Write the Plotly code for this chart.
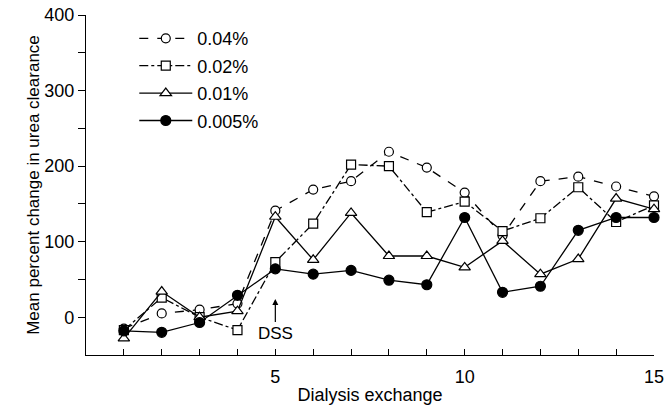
import plotly.graph_objects as go

exchange = list(range(1, 16))
conc_004 = [-15, 5, 10, 18, 141, 169, 180, 219, 198, 165, 108, 180, 186, 173, 160]
conc_002 = [-17, 26, 0, -17, 73, 124, 202, 200, 139, 153, 114, 131, 172, 126, 148]
conc_001 = [-28, 34, 0, 8, 133, 76, 138, 81, 81, 66, 101, 57, 77, 157, 143]
conc_0005 = [-18, -20, -7, 29, 64, 57, 62, 49, 43, 132, 33, 41, 115, 132, 132]

series_names = ["0.04%", "0.02%", "0.01%", "0.005%"]
y_tickvals = [0, 100, 200, 300, 400]
x_tickvals = list(range(1, 16))
x_ticktext = ["" if v % 5 else str(v) for v in x_tickvals]

FONT = "Liberation Sans, Arial, sans-serif"
fig = go.Figure()

styles = [
    (conc_004, "dash", "circle", "white", 9),
    (conc_002, "dashdot", "square", "white", 9),
    (conc_001, "solid", "triangle-up", "white", 10),
    (conc_0005, "solid", "circle", "black", 10),
]
for name, (vals, dash, sym, fill, size) in zip(series_names, styles):
    fig.add_trace(go.Scatter(
        x=exchange, y=vals, name=name, mode="lines+markers",
        legendgroup=name,
        line=dict(color="black", width=1.3, dash=dash),
        marker=dict(symbol=sym, size=size, color=fill,
                    line=dict(color="black", width=1.2)),
        cliponaxis=False,
    ))

fig.add_annotation(x=5, y=24, text="DSS", showarrow=True, arrowhead=2, arrowsize=1,
                   arrowwidth=1.2, arrowcolor="black", ax=0, ay=34,
                   font=dict(family=FONT, size=17, color="black"))

fig.update_layout(
    width=664, height=407,
    margin=dict(l=86, r=10, t=15, b=52),
    paper_bgcolor="white", plot_bgcolor="white",
    font=dict(family=FONT, size=14, color="black"),
    showlegend=True,
    legend=dict(x=0.085, y=0.985, xanchor="left", yanchor="top",
                font=dict(family=FONT, size=18), itemwidth=53,
                tracegroupgap=1, bgcolor="rgba(0,0,0,0)"),
    xaxis=dict(range=[0, 15], showgrid=False, zeroline=False, showline=True,
               linecolor="black", linewidth=1.2, ticks="inside", ticklen=6,
               tickcolor="black", tickmode="array", tickvals=x_tickvals,
               ticktext=x_ticktext, tickfont=dict(size=18), ticklabelstandoff=5,
               ticklabeloverflow="allow", automargin=False,
               title=dict(text="Dialysis exchange", font=dict(size=18), standoff=2)),
    yaxis=dict(range=[-50, 400], showgrid=False, zeroline=False, showline=True,
               linecolor="black", linewidth=1.2, ticks="outside", ticklen=7,
               tickcolor="black", tickmode="array", tickvals=y_tickvals,
               tickfont=dict(size=18), automargin=False, ticklabeloverflow="allow",
               minor=dict(tickvals=[50, 150, 250, 350], ticks="outside", ticklen=7,
                          tickcolor="black"),
               title=dict(text="Mean percent change in urea clearance",
                          font=dict(size=17), standoff=0)),
)

fig.write_html(
    "out.html",
    config={"displayModeBar": False},
    post_script="document.body.style.margin='0';document.body.style.overflow='hidden';",
)
